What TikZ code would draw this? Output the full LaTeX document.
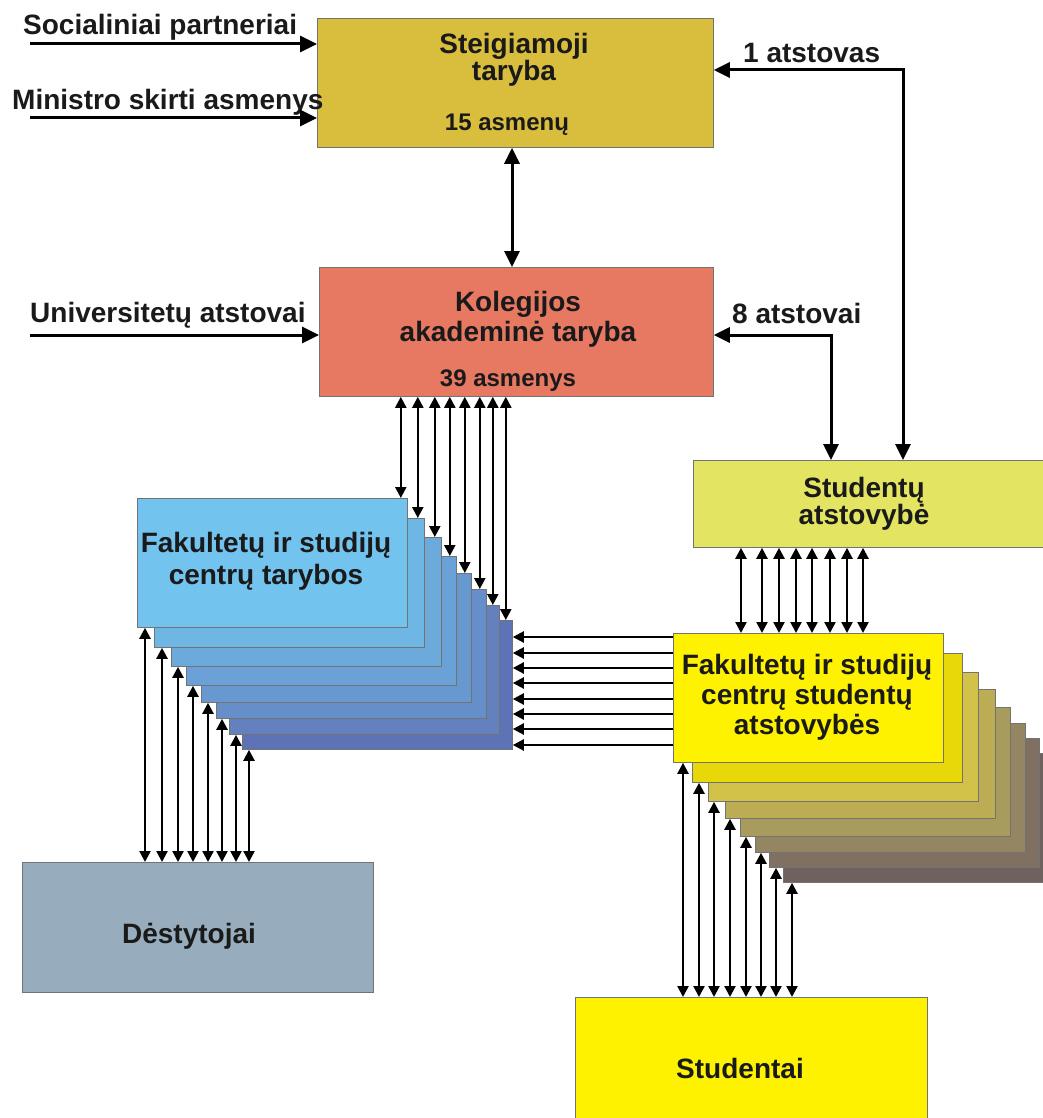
\documentclass[tikz,border=0pt]{standalone}
\usepackage{fontspec}
\setmainfont{Liberation Sans}
\usetikzlibrary{arrows.meta,calc}
\definecolor{txt}{HTML}{1A1A1A}
\definecolor{cst}{HTML}{D9BD3C}
\definecolor{ckol}{HTML}{E77862}
\definecolor{csa}{HTML}{E2E462}
\definecolor{cdes}{HTML}{97ADBD}
\definecolor{cstu}{HTML}{FFF200}
\definecolor{bl0}{HTML}{73C3EF}
\definecolor{bl1}{HTML}{6EB6E4}
\definecolor{bl2}{HTML}{6CAADC}
\definecolor{bl3}{HTML}{6AA1D6}
\definecolor{bl4}{HTML}{6898D0}
\definecolor{bl5}{HTML}{668EC8}
\definecolor{bl6}{HTML}{6381BF}
\definecolor{bl7}{HTML}{5E73B5}
\definecolor{ye0}{HTML}{FFF200}
\definecolor{ye1}{HTML}{E8D80A}
\definecolor{ye2}{HTML}{D2C24A}
\definecolor{ye3}{HTML}{BCAC54}
\definecolor{ye4}{HTML}{A99A5E}
\definecolor{ye5}{HTML}{958663}
\definecolor{ye6}{HTML}{807062}
\definecolor{ye7}{HTML}{6E625E}
\begin{document}
\begin{tikzpicture}[x=1pt,y=-1pt,
  box/.style={draw=black!55, line width=0.8pt, anchor=north west, inner sep=0pt, rectangle},
  stackbox/.style={box, minimum width=270pt, minimum height=129pt},
  big/.style={line width=3pt, -{Triangle[length=17pt,width=16pt]}},
  bigd/.style={line width=3pt, {Triangle[length=16pt,width=15pt]}-{Triangle[length=16pt,width=15pt]}},
  sm/.style={line width=2.3pt, {Triangle[length=11pt,width=11pt]}-{Triangle[length=11pt,width=11pt]}},
  smr/.style={line width=2.3pt, -{Triangle[length=11pt,width=11pt]}},
  lab/.style={font=\fontsize{28}{30}\selectfont\bfseries, text=txt, inner sep=0pt, align=center},
  sublab/.style={font=\fontsize{24}{26}\selectfont\bfseries, text=txt, inner sep=0pt},
]
\useasboundingbox (0,0) rectangle (1043,1118);
\clip (0,0) rectangle (1043,1118);
\fill[white] (0,0) rectangle (1043,1118);

% main boxes
\node[box, fill=cst, minimum width=396pt, minimum height=129pt] (st) at (317,18) {};
\node[box, fill=ckol, minimum width=394pt, minimum height=129pt] (kol) at (319,267) {};
\node[box, fill=csa, minimum width=365pt, minimum height=87pt] (sa) at (693,460) {};
\node[box, fill=cdes, minimum width=351pt, minimum height=130pt] (des) at (22,862) {};
\node[box, fill=cstu, minimum width=352pt, minimum height=140pt] (stu) at (575,997) {};

% blue stack (back to front)
\foreach \i/\l/\t in {7/242/620,6/229/605,5/216/589,4/201/573,3/186/556,2/171/537,1/154/518,0/137/498}
  \node[stackbox, fill=bl\i] (b\i) at (\l,\t) {};
% yellow stack (back to front)
\foreach \i/\l/\t in {7/783/753,6/769/738,5/755/723,4/740/707,3/725/689,2/708/672,1/692/653,0/673/633}
  \node[stackbox, fill=ye\i] (y\i) at (\l,\t) {};

% texts
\node[lab, font=\fontsize{28}{27}\selectfont\bfseries] (stt) at (514,60) {Steigiamoji\\taryba};
\node[sublab, anchor=base] (sts) at (507,131) {15 asmenų};
\node[lab] (kolt) at (518,319) {Kolegijos\\akademinė taryba};
\node[sublab, anchor=base] (kols) at (508,386) {39 asmenys};
\node[lab, font=\fontsize{28}{22}\selectfont\bfseries] (sat) at (864,504) {Studentų\\atstovybė};
\node[lab, font=\fontsize{28}{32}\selectfont\bfseries] (bt) at (266,561) {Fakultetų ir studijų\\centrų tarybos};
\node[lab] (yt) at (807,697) {Fakultetų ir studijų\\centrų studentų\\atstovybės};
\node[lab, anchor=base] (dest) at (189,943) {Dėstytojai};
\node[lab, anchor=base] (stut) at (740,1078) {Studentai};

% side labels
\node[lab, anchor=base west] (l1) at (23,35) {Socialiniai partneriai};
\node[lab, anchor=base west] (l2) at (12,110) {Ministro skirti asmenys};
\node[lab, anchor=base west] (l3) at (30,322) {Universitetų atstovai};
\node[lab, anchor=base west] (l4) at (743,63) {1 atstovas};
\node[lab, anchor=base west] (l5) at (732,323) {8 atstovai};

% big connectors
\coordinate (a1) at (30,44);
\coordinate (a2) at (30,118);
\coordinate (a3) at (30,335);
\coordinate (k1) at (903,70);
\coordinate (k2) at (831,335);
\coordinate (k3) at (512,0);
\draw[big] (a1) -- (st.west |- a1);
\draw[big] (a2) -- (st.west |- a2);
\draw[big] (a3) -- (kol.west |- a3);
\draw[bigd] (sa.north -| k1) -- (k1) -- (st.east |- k1);
\draw[bigd] (sa.north -| k2) -- (k2) -- (kol.east |- k2);
\draw[bigd] (st.south -| k3) -- (kol.north -| k3);

% kolegija -> blue stack
\foreach \i in {0,...,7}
  \draw[sm] ($(kol.south -| b\i.north east)+(-7,0)$) -- ($(b\i.north east)+(-7,0)$);
% blue stack -> destytojai
\foreach \i/\x in {0/145,1/162,2/178,3/193,4/208,5/222,6/236,7/249} {
  \coordinate (d\i) at (\x,0);
  \draw[sm] (b\i.south -| d\i) -- (des.north -| d\i);
}
% studentu atstovybe -> yellow stack
\foreach \i/\x in {0/741,1/762,2/779,3/796,4/812,5/830,6/847,7/863} {
  \coordinate (v\i) at (\x,0);
  \draw[sm] (sa.south -| v\i) -- (y0.north -| v\i);
}
% yellow stack -> studentai
\foreach \i/\x in {0/683,1/699,2/714,3/730,4/746,5/761,6/776,7/792} {
  \coordinate (w\i) at (\x,0);
  \draw[sm] (y\i.south -| w\i) -- (stu.north -| w\i);
}
% yellow -> blue horizontals
\foreach \i/\y in {0/637,1/653,2/668,3/683,4/699,5/714,6/729,7/745} {
  \coordinate (h\i) at (0,\y);
  \draw[smr] (y0.west |- h\i) -- (b7.east |- h\i);
}
\end{tikzpicture}
\end{document}
